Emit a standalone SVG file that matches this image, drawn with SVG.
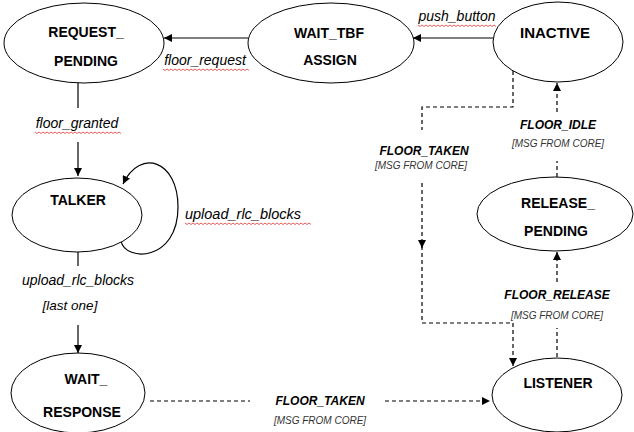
<svg xmlns="http://www.w3.org/2000/svg" width="634" height="432" viewBox="0 0 634 432">
<defs>
<marker id="ah" viewBox="0 0 10 10" refX="10" refY="5" markerWidth="8" markerHeight="8" markerUnits="userSpaceOnUse" orient="auto">
<path d="M0,0 L10,5 L0,10 z" fill="#000"/>
</marker>
<style>
.node{fill:#fff;stroke:#000;stroke-width:1}
.nt{font-family:"Liberation Sans",Arial,sans-serif;font-weight:bold;font-size:14px;fill:#000;text-anchor:middle}
.lab{font-family:"Liberation Sans",Arial,sans-serif;font-style:italic;font-size:14px;fill:#000;text-anchor:middle}
.ev{font-family:"Liberation Sans",Arial,sans-serif;font-style:italic;font-weight:bold;font-size:12px;fill:#000;text-anchor:middle}
.msg{font-family:"Liberation Sans",Arial,sans-serif;font-style:italic;font-size:10px;fill:#333;text-anchor:middle}
.solid{fill:none;stroke:#000;stroke-width:1.2}
.dash{fill:none;stroke:#000;stroke-width:1.2;stroke-dasharray:4 3}
.sq{fill:none;stroke:#d33;stroke-width:0.8}
</style>
</defs>
<rect width="634" height="432" fill="#fff"/>

<g id="connectors">
<!-- push_button -->
<line class="solid" x1="493" y1="38" x2="413" y2="38" marker-end="url(#ah)"/>
<!-- floor_request -->
<line class="solid" x1="248" y1="38" x2="164" y2="38" marker-end="url(#ah)"/>
<!-- floor_granted -->
<line class="solid" x1="78" y1="83" x2="78" y2="108"/>
<line class="solid" x1="78" y1="142" x2="78" y2="176" marker-end="url(#ah)"/>
<!-- self loop -->
<path class="solid" d="M121,241 C125,262 178,262 178,207 C178,160 140,148 123,184" marker-end="url(#ah)"/>
<!-- upload last one -->
<line class="solid" x1="78" y1="252" x2="78" y2="266"/>
<line class="solid" x1="78" y1="325" x2="78" y2="353" marker-end="url(#ah)"/>
<!-- FLOOR_TAKEN bottom -->
<line class="dash" x1="150" y1="401" x2="250" y2="401"/>
<line class="dash" x1="385" y1="401" x2="490" y2="401" marker-end="url(#ah)"/>
<!-- FLOOR_TAKEN right (INACTIVE -> LISTENER) -->
<path class="dash" d="M513,71 L513,107 L422,107 L422,130"/>
<line class="dash" x1="422" y1="183" x2="422" y2="248" marker-end="url(#ah)"/>
<path class="dash" d="M422,246 L422,323 L513,323 L513,366" marker-end="url(#ah)"/>
<!-- FLOOR_IDLE -->
<line class="dash" x1="557" y1="177" x2="557" y2="161"/>
<line class="dash" x1="557" y1="112" x2="557" y2="83" marker-end="url(#ah)"/>
<!-- FLOOR_RELEASE -->
<line class="dash" x1="557" y1="357" x2="557" y2="328"/>
<line class="dash" x1="557" y1="282" x2="557" y2="252" marker-end="url(#ah)"/>

<!-- labels -->
<text class="lab" x="457" y="21">push_button</text>
<path class="sq" d="M418,25 l2,1.5 l2,-1.5 l2,1.5 l2,-1.5 l2,1.5 l2,-1.5 l2,1.5 l2,-1.5 l2,1.5 l2,-1.5 l2,1.5 l2,-1.5 l2,1.5 l2,-1.5 l2,1.5 l2,-1.5 l2,1.5 l2,-1.5 l2,1.5 l2,-1.5 l2,1.5 l2,-1.5 l2,1.5 l2,-1.5 l2,1.5 l2,-1.5 l2,1.5 l2,-1.5 l2,1.5 l2,-1.5 l2,1.5 l2,-1.5 l2,1.5 l2,-1.5 l2,1.5 l2,-1.5 l2,1.5 l2,-1.5 l2,1.5"/>
<text class="lab" x="205" y="65">floor_request</text>
<path class="sq" d="M163,69 l2,1.5 l2,-1.5 l2,1.5 l2,-1.5 l2,1.5 l2,-1.5 l2,1.5 l2,-1.5 l2,1.5 l2,-1.5 l2,1.5 l2,-1.5 l2,1.5 l2,-1.5 l2,1.5 l2,-1.5 l2,1.5 l2,-1.5 l2,1.5 l2,-1.5 l2,1.5 l2,-1.5 l2,1.5 l2,-1.5 l2,1.5 l2,-1.5 l2,1.5 l2,-1.5 l2,1.5 l2,-1.5 l2,1.5 l2,-1.5 l2,1.5 l2,-1.5 l2,1.5 l2,-1.5 l2,1.5 l2,-1.5 l2,1.5 l2,-1.5 l2,1.5 l2,-1.5 l2,1.5"/>
<text class="lab" x="77" y="128">floor_granted</text>
<path class="sq" d="M35,132 l2,1.5 l2,-1.5 l2,1.5 l2,-1.5 l2,1.5 l2,-1.5 l2,1.5 l2,-1.5 l2,1.5 l2,-1.5 l2,1.5 l2,-1.5 l2,1.5 l2,-1.5 l2,1.5 l2,-1.5 l2,1.5 l2,-1.5 l2,1.5 l2,-1.5 l2,1.5 l2,-1.5 l2,1.5 l2,-1.5 l2,1.5 l2,-1.5 l2,1.5 l2,-1.5 l2,1.5 l2,-1.5 l2,1.5 l2,-1.5 l2,1.5 l2,-1.5 l2,1.5 l2,-1.5 l2,1.5 l2,-1.5 l2,1.5 l2,-1.5 l2,1.5 l2,-1.5 l2,1.5"/>
<text class="lab" x="243" y="219" style="font-size:14.5px">upload_rlc_blocks</text>
<path class="sq" d="M185,223 l2,1.5 l2,-1.5 l2,1.5 l2,-1.5 l2,1.5 l2,-1.5 l2,1.5 l2,-1.5 l2,1.5 l2,-1.5 l2,1.5 l2,-1.5 l2,1.5 l2,-1.5 l2,1.5 l2,-1.5 l2,1.5 l2,-1.5 l2,1.5 l2,-1.5 l2,1.5 l2,-1.5 l2,1.5 l2,-1.5 l2,1.5 l2,-1.5 l2,1.5 l2,-1.5 l2,1.5 l2,-1.5 l2,1.5 l2,-1.5 l2,1.5 l2,-1.5 l2,1.5 l2,-1.5 l2,1.5 l2,-1.5 l2,1.5 l2,-1.5 l2,1.5 l2,-1.5 l2,1.5 l2,-1.5 l2,1.5 l2,-1.5 l2,1.5 l2,-1.5 l2,1.5 l2,-1.5 l2,1.5 l2,-1.5 l2,1.5 l2,-1.5 l2,1.5 l2,-1.5 l2,1.5 l2,-1.5 l2,1.5 l2,-1.5 l2,1.5 l2,-1.5 l2,1.5"/>
<text class="lab" x="78" y="285" style="font-size:14px">upload_rlc_blocks</text>
<text class="lab" x="70" y="310" style="font-size:13.5px">[last one]</text>
<text class="ev" x="320" y="405">FLOOR_TAKEN</text>
<text class="msg" x="320" y="424">[MSG FROM CORE]</text>
<text class="ev" x="424" y="155">FLOOR_TAKEN</text>
<text class="msg" x="421" y="169">[MSG FROM CORE]</text>
<text class="ev" x="558" y="129">FLOOR_IDLE</text>
<text class="msg" x="558" y="147">[MSG FROM CORE]</text>
<text class="ev" x="557" y="299">FLOOR_RELEASE</text>
<text class="msg" x="557" y="319">[MSG FROM CORE]</text>
</g>

<g id="REQUEST_PENDING">
<ellipse class="node" cx="84" cy="43" rx="80" ry="40"/>
<text class="nt" x="86" y="37">REQUEST_</text>
<text class="nt" x="86" y="66">PENDING</text>
</g>
<g id="WAIT_TBF_ASSIGN">
<ellipse class="node" cx="331" cy="43" rx="83" ry="40"/>
<text class="nt" x="329" y="38">WAIT_TBF</text>
<text class="nt" x="330" y="65">ASSIGN</text>
</g>
<g id="INACTIVE">
<ellipse class="node" cx="558" cy="42" rx="65" ry="40"/>
<text class="nt" x="555" y="38" style="font-size:15px">INACTIVE</text>
</g>
<g id="TALKER">
<ellipse class="node" cx="77" cy="215" rx="65" ry="37"/>
<text class="nt" x="78" y="205">TALKER</text>
</g>
<g id="RELEASE_PENDING">
<ellipse class="node" cx="555" cy="214" rx="78" ry="37"/>
<text class="nt" x="558" y="208">RELEASE_</text>
<text class="nt" x="556" y="236">PENDING</text>
</g>
<g id="WAIT_RESPONSE">
<ellipse class="node" cx="78" cy="393" rx="67" ry="40"/>
<text class="nt" x="86" y="384">WAIT_</text>
<text class="nt" x="82" y="417">RESPONSE</text>
</g>
<g id="LISTENER">
<ellipse class="node" cx="557" cy="395" rx="65" ry="37"/>
<text class="nt" x="558" y="388">LISTENER</text>
</g>
</svg>
